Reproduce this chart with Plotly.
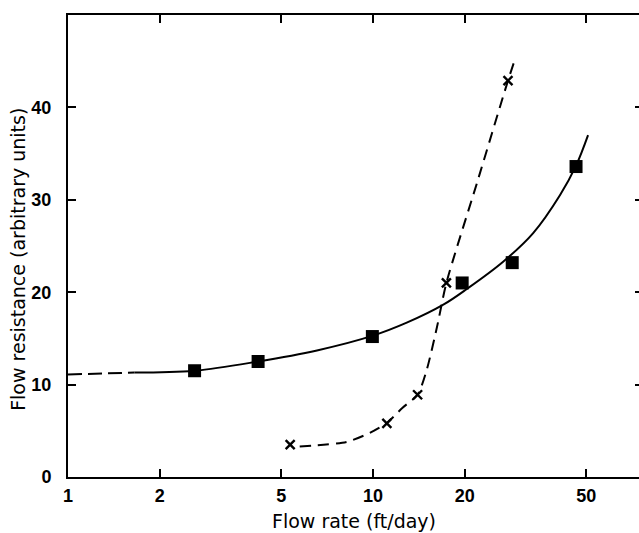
import plotly.graph_objects as go

# Measured data points
hpaa_x = [2.6, 4.2, 9.95, 19.6, 28.6, 46.3]
hpaa_y = [11.5, 12.5, 15.2, 21.0, 23.2, 33.6]

peo_x = [5.35, 11.1, 14.0, 17.4, 27.7]
peo_y = [3.5, 5.8, 8.9, 21.0, 42.9]

# Drawn curves
hpaa_ext_x = [1.0, 1.65]
hpaa_ext_y = [11.1, 11.3]
hpaa_fit_x = [1.65, 2.6, 4.2, 6.55, 10.0, 12.9, 17.0, 20.3, 26.7, 33.5, 41.0, 46.3, 50.7]
hpaa_fit_y = [11.3, 11.5, 12.5, 13.7, 15.3, 16.7, 18.65, 20.35, 23.3, 26.4, 30.5, 33.7, 37.0]

peo_fit_x = [5.75, 8.2, 9.8, 11.1, 12.5, 14.0, 15.0, 16.2, 17.4, 22.0, 27.7, 29.4]
peo_fit_y = [3.3, 3.8, 4.8, 5.85, 7.5, 8.9, 11.6, 16.2, 21.0, 32.0, 42.9, 45.5]

x_ticks = [1, 2, 5, 10, 20, 50]
y_ticks = [0, 10, 20, 30, 40]

fig = go.Figure()
fig.add_trace(go.Scatter(x=hpaa_ext_x, y=hpaa_ext_y, mode="lines",
                         line=dict(color="black", width=2, dash="14px,6px"),
                         showlegend=False, hoverinfo="skip"))
fig.add_trace(go.Scatter(x=hpaa_fit_x, y=hpaa_fit_y, mode="lines",
                         line=dict(color="black", width=2, shape="spline", smoothing=1.0),
                         showlegend=False, hoverinfo="skip"))
fig.add_trace(go.Scatter(x=peo_fit_x, y=peo_fit_y, mode="lines",
                         line=dict(color="black", width=2, dash="11px,7px", shape="spline", smoothing=0.7),
                         showlegend=False, hoverinfo="skip"))
fig.add_trace(go.Scatter(x=hpaa_x, y=hpaa_y, mode="markers", name="HPAA",
                         marker=dict(symbol="square", size=13, color="black"),
                         showlegend=False))
fig.add_trace(go.Scatter(x=peo_x, y=peo_y, mode="markers", name="PEO",
                         marker=dict(symbol="x-thin-open", size=9, color="black",
                                     line=dict(color="black", width=2.4)),
                         showlegend=False))
# invisible trace to anchor the right-hand axis
fig.add_trace(go.Scatter(x=[1], y=[0], yaxis="y2", mode="markers",
                         marker=dict(opacity=0), showlegend=False, hoverinfo="skip"))

labfont = dict(family="DejaVu Sans", size=18, color="black")
titlefont = dict(family="DejaVu Sans", size=19, color="black")
fig.add_annotation(x=27.7, y=42.9, xref="x", yref="y", text="PEO", showarrow=False,
                   xanchor="left", xshift=7, font=labfont)
fig.add_annotation(x=28.6, y=23.2, xref="x", yref="y", text="HPAA", showarrow=False,
                   xanchor="left", xshift=11, font=labfont)

fig.add_annotation(x=0, y=0.47, xref="paper", yref="paper", text="Flow resistance (arbitrary units)",
                   showarrow=False, textangle=-90, xanchor="center", yanchor="middle", xshift=-50,
                   font=titlefont)
fig.add_annotation(x=0.5, y=0, xref="paper", yref="paper", text="Flow rate (ft/day)",
                   showarrow=False, xanchor="center", yanchor="middle", yshift=-44,
                   font=titlefont)

tickfont = dict(family="Liberation Sans", size=18, color="black")

fig.update_layout(
    width=639, height=533,
    margin=dict(l=68, r=0, t=15, b=56),
    paper_bgcolor="white", plot_bgcolor="white",
    xaxis=dict(type="log", range=[0, 1.872], tickvals=x_ticks,
               ticktext=["<b>%d</b>" % v for v in x_ticks],
               ticks="inside", ticklen=8, tickwidth=2, tickcolor="black",
               showline=True, linecolor="black", linewidth=2, mirror="ticks",
               showgrid=False, zeroline=False, tickfont=tickfont, ticklabelstandoff=1),
    yaxis=dict(range=[0, 50], tickvals=y_ticks,
               ticktext=["<b>%d</b>" % v for v in y_ticks],
               ticks="inside", ticklen=8, tickwidth=2, tickcolor="black",
               showline=True, linecolor="black", linewidth=2,
               showgrid=False, zeroline=False, tickfont=tickfont, ticklabelstandoff=11),
    yaxis2=dict(range=[0, 50], overlaying="y", side="right", tickvals=[10, 20, 30, 40],
                ticks="inside", ticklen=4, tickwidth=1.5, tickcolor="black",
                showticklabels=False, showline=False, showgrid=False, zeroline=False),
)

fig.write_html("out.html")
